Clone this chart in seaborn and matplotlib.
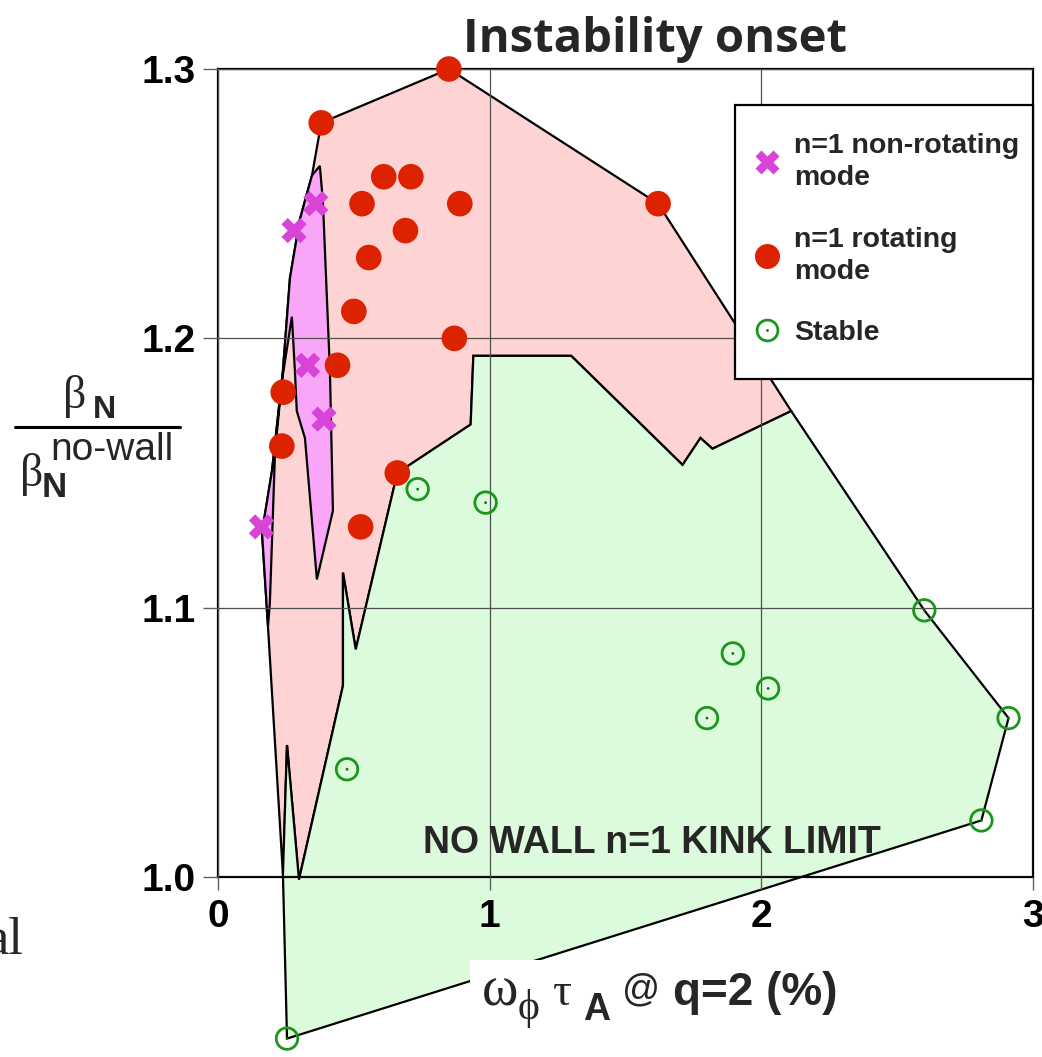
import matplotlib
matplotlib.use("Agg")
import matplotlib.pyplot as plt
from matplotlib.lines import Line2D
from matplotlib.patches import Rectangle
import pandas as pd
import seaborn as sns

# measured points (omega_phi tau_A, beta_N / beta_N no-wall)
nonrot_x = [0.16, 0.28, 0.36, 0.33, 0.39]
nonrot_y = [1.13, 1.24, 1.25, 1.19, 1.17]

rot_x = [0.85, 0.38, 0.61, 0.71, 0.53, 0.89, 0.69, 0.555, 0.50, 0.87,
         0.44, 0.24, 0.235, 0.66, 0.525, 1.62]
rot_y = [1.30, 1.28, 1.26, 1.26, 1.25, 1.25, 1.24, 1.23, 1.21, 1.20,
         1.19, 1.18, 1.16, 1.15, 1.13, 1.25]

stable_x = [0.735, 0.985, 2.60, 1.895, 2.025, 1.80, 2.91, 2.81, 0.475, 0.254]
stable_y = [1.144, 1.139, 1.099, 1.083, 1.070, 1.059, 1.059, 1.021, 1.040, 0.940]

# region outlines
red_region_x = [0.184, 0.162, 0.199, 0.239, 0.265, 0.301, 0.346, 0.38, 0.85, 1.62,
                2.11, 1.82, 1.776, 1.71, 1.30, 0.94, 0.93, 0.66, 0.507, 0.46,
                0.46, 0.298, 0.254, 0.239]
red_region_y = [1.093, 1.128, 1.151, 1.188, 1.2225, 1.244, 1.2605, 1.28, 1.30, 1.25,
                1.173, 1.159, 1.163, 1.153, 1.1935, 1.1935, 1.168, 1.15, 1.0845, 1.113,
                1.071, 0.999, 1.049, 1.001]

green_region_x = [0.254, 2.81, 2.91, 2.60, 2.11, 1.82, 1.776, 1.71, 1.30, 0.94,
                  0.93, 0.66, 0.507, 0.46, 0.46, 0.298, 0.254, 0.239]
green_region_y = [0.940, 1.021, 1.059, 1.099, 1.173, 1.159, 1.163, 1.153, 1.1935, 1.1935,
                  1.168, 1.15, 1.0845, 1.113, 1.071, 0.999, 1.049, 1.001]

mag_region_x = [0.346, 0.375, 0.386, 0.412, 0.423, 0.364, 0.320, 0.290, 0.283, 0.272,
                0.235, 0.210, 0.191, 0.184, 0.162, 0.199, 0.239, 0.265, 0.301]
mag_region_y = [1.2605, 1.264, 1.251, 1.188, 1.136, 1.1105, 1.163, 1.173, 1.188, 1.208,
                1.184, 1.158, 1.102, 1.093, 1.128, 1.151, 1.188, 1.2225, 1.244]

x_ticks = [0, 1, 2, 3]
x_tick_labels = ["0", "1", "2", "3"]
y_ticks = [1.0, 1.1, 1.2, 1.3]
y_tick_labels = ["1.0", "1.1", "1.2", "1.3"]

legend_labels = ["n=1 non-rotating\nmode", "n=1 rotating\nmode", "Stable"]

# colours
MAG = "#d844d8"
RED = "#dd2200"
GREEN = "#1a961a"
PINK = "#fdd3d3"
LGREEN = "#dcfadc"
LMAG = "#f9a6f9"

W, H = 1042, 1057


def fx(px):
    return px / W


def fy(py):
    return 1 - py / H


SANS = ["Liberation Sans", "DejaVu Sans"]
SERIF = ["Liberation Serif", "DejaVu Serif"]

sns.set_theme(style="white")
plt.rcParams["font.family"] = SANS

fig = plt.figure(figsize=(W / 100, H / 100), dpi=100)
AX_L, AX_R, AX_T, AX_B = 218, 1033, 69, 877
ax = fig.add_axes([fx(AX_L), fy(AX_B), fx(AX_R) - fx(AX_L), fy(AX_T) - fy(AX_B)])


def ax_frac(px, py):
    return (px - AX_L) / (AX_R - AX_L), (AX_B - py) / (AX_B - AX_T)


# regions
ax.fill(red_region_x, red_region_y, facecolor=PINK, edgecolor="black",
        lw=1.6, zorder=1, clip_on=False)
ax.fill(green_region_x, green_region_y, facecolor=LGREEN, edgecolor="black",
        lw=1.6, zorder=1.1, clip_on=False)
ax.fill(mag_region_x, mag_region_y, facecolor=LMAG, edgecolor="black",
        lw=1.6, zorder=1.2, clip_on=False)

# points
df_rot = pd.DataFrame({"x": rot_x, "y": rot_y})
df_non = pd.DataFrame({"x": nonrot_x, "y": nonrot_y})
df_st = pd.DataFrame({"x": stable_x, "y": stable_y})

sns.scatterplot(data=df_rot, x="x", y="y", ax=ax, marker="o", s=340,
                color=RED, edgecolor="none", zorder=4, clip_on=False, legend=False)
sns.scatterplot(data=df_non, x="x", y="y", ax=ax, marker="X", s=330,
                color=MAG, edgecolor="none", zorder=4, clip_on=False, legend=False)
sns.scatterplot(data=df_st, x="x", y="y", ax=ax, marker="o", s=240,
                facecolor="none", edgecolor=GREEN, linewidth=2.0, zorder=4,
                clip_on=False, legend=False)
sns.scatterplot(data=df_st, x="x", y="y", ax=ax, marker="o", s=4,
                color="#1a6e1a", edgecolor="none", zorder=4, clip_on=False, legend=False)

ax.set_xlim(0, 3)
ax.set_ylim(1.0, 1.3)
ax.set_xticks(x_ticks)
ax.set_xticklabels(x_tick_labels)
ax.set_yticks(y_ticks)
ax.set_yticklabels(y_tick_labels)
ax.set_xlabel("")
ax.set_ylabel("")

ax.grid(True, color="#505050", lw=0.9)
ax.set_axisbelow(False)
for sp in ax.spines.values():
    sp.set_color("black")
    sp.set_linewidth(1.6)

ax.tick_params(axis="y", direction="out", length=11, width=1, color="#606060",
               pad=5, labelsize=28, labelcolor="black", left=True)
ax.tick_params(axis="x", direction="out", length=9, width=1, color="#606060",
               pad=7, labelsize=28, labelcolor="black", bottom=True)
for lab in ax.get_xticklabels() + ax.get_yticklabels():
    lab.set_weight("bold")

ax.text(1.596, 1.009, "NO WALL n=1 KINK LIMIT", ha="center", va="baseline",
        fontsize=27, fontweight="bold", zorder=5)

# legend: frame drawn as a box, entries placed inside it
fx0, fy0 = ax_frac(735, 379)
fx1, fy1 = ax_frac(AX_R, 105)
ax.add_patch(Rectangle((fx0, fy0), fx1 - fx0, fy1 - fy0, transform=ax.transAxes,
                       facecolor="white", edgecolor="black", lw=1.6, zorder=5,
                       clip_on=False))
h1 = Line2D([], [], ls="none", marker="X", ms=17, mfc=MAG, mec="none")
h2 = Line2D([], [], ls="none", marker="o", ms=18, mfc=RED, mec="none")
h3a = Line2D([], [], ls="none", marker="o", ms=15, mfc="none", mec=GREEN, mew=2)
h3b = Line2D([], [], ls="none", marker="o", ms=2, mfc="#1a6e1a", mec="none")
leg = ax.legend([h1, h2, (h3a, h3b)], legend_labels, loc="upper left",
                bbox_to_anchor=ax_frac(753, 133), borderaxespad=0, borderpad=0,
                frameon=False, prop={"weight": "bold", "size": 20.5},
                handlelength=1.0, handletextpad=0.45, labelspacing=1.25)
for t in leg.get_texts():
    t.set_linespacing(1.3)
leg.set_zorder(6)

# title
fig.text(fx(655), fy(52), "Instability onset", ha="center", va="baseline",
         family=["Open Sans", "DejaVu Sans"], fontweight="bold", fontsize=34)

# y label: beta_N / beta_N^no-wall
fig.text(fx(63), fy(408), "\u03b2", family=SERIF, fontsize=33, va="baseline")
fig.text(fx(93), fy(418), "N", fontweight="bold", fontsize=23, va="baseline")
fig.add_artist(Line2D([fx(15), fx(180)], [fy(427), fy(427)], color="black", lw=2.2))
fig.text(fx(50), fy(460), "no-wall", fontsize=28, va="baseline")
fig.text(fx(20), fy(486), "\u03b2", family=SERIF, fontsize=33, va="baseline")
fig.text(fx(42), fy(497), "N", fontweight="bold", fontsize=25, va="baseline")

# x label on a white box
fig.add_artist(Rectangle((fx(470), 0), fx(870) - fx(470), fy(960),
                         facecolor="white", edgecolor="none", zorder=2))
fig.text(fx(482), fy(1005), "\u03c9", family=SERIF, fontsize=40, va="baseline")
fig.text(fx(518), fy(1019), "\u03d5", family=SERIF, fontsize=30, va="baseline")
fig.text(fx(553), fy(1005), "\u03c4", family=SERIF, fontsize=34, va="baseline")
fig.text(fx(583), fy(1020), "A", fontweight="bold", fontsize=27, va="baseline")
fig.text(fx(622), fy(1000), "@", fontsize=27, va="baseline")
fig.text(fx(673), fy(1005), "q=2 (%)", fontweight="bold", fontsize=33, va="baseline")

# cut-off text at the left edge
fig.text(fx(23), fy(953), "al", family=SERIF, fontsize=38, ha="right", va="baseline")

fig.savefig("out.png", dpi=100)
